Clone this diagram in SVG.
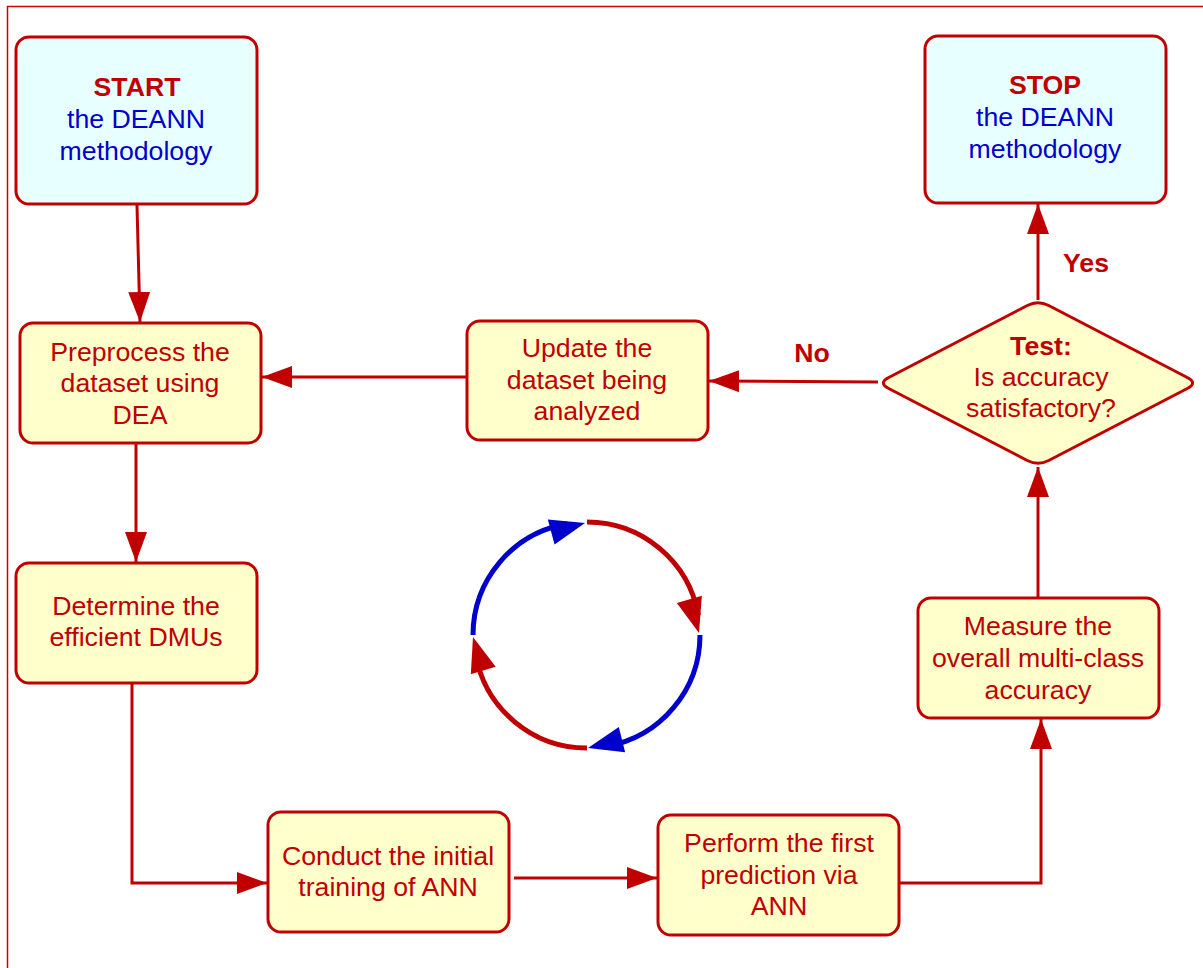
<svg xmlns="http://www.w3.org/2000/svg" width="1203" height="968" viewBox="0 0 1203 968">
<defs>
<style>
.box{stroke:#c00000;stroke-width:3}
.proc{fill:#ffffcc}
.term{fill:#e8ffff}
.t{font-family:"Liberation Sans",Arial,sans-serif;font-size:26.7px;fill:#c00000;text-anchor:middle}
.b{font-weight:bold}
.blue{fill:#0000cc}
.con{fill:none;stroke:#c00000;stroke-width:3}
</style>
<marker id="ah" markerUnits="userSpaceOnUse" markerWidth="32" markerHeight="24" refX="30" refY="11" orient="auto">
<path d="M0,0 L30,11 L0,22 z" fill="#c00000"/>
</marker>
</defs>
<rect width="1203" height="968" fill="#ffffff"/>
<path d="M7.5,968 L7.5,6.5 L1203,6.5" fill="none" stroke="#d40000" stroke-width="1.5"/>

<g id="connectors">
<path class="con" d="M137,205 L140,322" marker-end="url(#ah)"/>
<path class="con" d="M136,444 L136,562" marker-end="url(#ah)"/>
<path class="con" d="M132,684 L132,883 L267,883" marker-end="url(#ah)"/>
<path class="con" d="M514,878 L657,878" marker-end="url(#ah)"/>
<path class="con" d="M899,883 L1041,883 L1041,719" marker-end="url(#ah)"/>
<path class="con" d="M1038,597 L1038,467" marker-end="url(#ah)"/>
<path class="con" d="M1038,300 L1038,204" marker-end="url(#ah)"/>
<path class="con" d="M878,382 L709,381" marker-end="url(#ah)"/>
<path class="con" d="M466,377 L262,377" marker-end="url(#ah)"/>
<text class="t b" x="1086" y="272">Yes</text>
<text class="t b" x="812" y="362">No</text>
</g>

<g id="start">
<rect class="box term" x="16" y="37" width="241" height="167" rx="13"/>
<text class="t b" x="137" y="96">START</text>
<text class="t blue" x="136" y="128">the DEANN</text>
<text class="t blue" x="136" y="160">methodology</text>
</g>

<g id="stop">
<rect class="box term" x="925" y="36" width="241" height="167" rx="13"/>
<text class="t b" x="1045" y="94">STOP</text>
<text class="t blue" x="1045" y="126">the DEANN</text>
<text class="t blue" x="1045" y="158">methodology</text>
</g>

<g id="preprocess">
<rect class="box proc" x="20" y="323" width="241" height="120" rx="13"/>
<text class="t" x="140" y="361">Preprocess the</text>
<text class="t" x="140" y="392">dataset using</text>
<text class="t" x="140" y="424">DEA</text>
</g>

<g id="update">
<rect class="box proc" x="467" y="321" width="241" height="119" rx="13"/>
<text class="t" x="587" y="357">Update the</text>
<text class="t" x="587" y="389">dataset being</text>
<text class="t" x="587" y="420">analyzed</text>
</g>

<g id="test">
<path class="box proc" d="M888.7,377.5 Q878,383 888.7,388.5 L1027.3,460.5 Q1038,466 1048.7,460.5 L1187.3,388.5 Q1198,383 1187.3,377.5 L1048.7,305.5 Q1038,300 1027.3,305.5 Z"/>
<text class="t b" x="1041" y="355">Test:</text>
<text class="t" x="1041" y="386">Is accuracy</text>
<text class="t" x="1041" y="417">satisfactory?</text>
</g>

<g id="determine">
<rect class="box proc" x="16" y="563" width="241" height="120" rx="13"/>
<text class="t" x="136" y="615">Determine the</text>
<text class="t" x="136" y="646">efficient DMUs</text>
</g>

<g id="measure">
<rect class="box proc" x="918" y="598" width="241" height="120" rx="13"/>
<text class="t" x="1038" y="635">Measure the</text>
<text class="t" x="1038" y="667">overall multi-class</text>
<text class="t" x="1038" y="699">accuracy</text>
</g>

<g id="conduct">
<rect class="box proc" x="268" y="812" width="241" height="120" rx="13"/>
<text class="t" x="388" y="865">Conduct the initial</text>
<text class="t" x="388" y="896">training of ANN</text>
</g>

<g id="perform">
<rect class="box proc" x="658" y="815" width="241" height="120" rx="13"/>
<text class="t" x="779" y="852">Perform the first</text>
<text class="t" x="779" y="884">prediction via</text>
<text class="t" x="779" y="915">ANN</text>
</g>

<g id="cycle">
<path d="M473,635 A113,113 0 0 1 567.4,523.7" fill="none" stroke="#0000cc" stroke-width="5"/>
<path d="M587,522 A113,113 0 0 1 698.3,615.4" fill="none" stroke="#c00000" stroke-width="5"/>
<path d="M700,635 A113,113 0 0 1 606.6,746.3" fill="none" stroke="#0000cc" stroke-width="5"/>
<path d="M587,748 A113,113 0 0 1 475.7,654.6" fill="none" stroke="#c00000" stroke-width="5"/>
<polygon points="0,0 -35,-13 -35,13" fill="#0000cc" transform="translate(585,523) rotate(-15)"/>
<polygon points="0,0 -35,-13 -35,13" fill="#c00000" transform="translate(699,633) rotate(74)"/>
<polygon points="0,0 -35,-13 -35,13" fill="#0000cc" transform="translate(588,748) rotate(166)"/>
<polygon points="0,0 -35,-13 -35,13" fill="#c00000" transform="translate(473,637) rotate(253)"/>
</g>
</svg>
